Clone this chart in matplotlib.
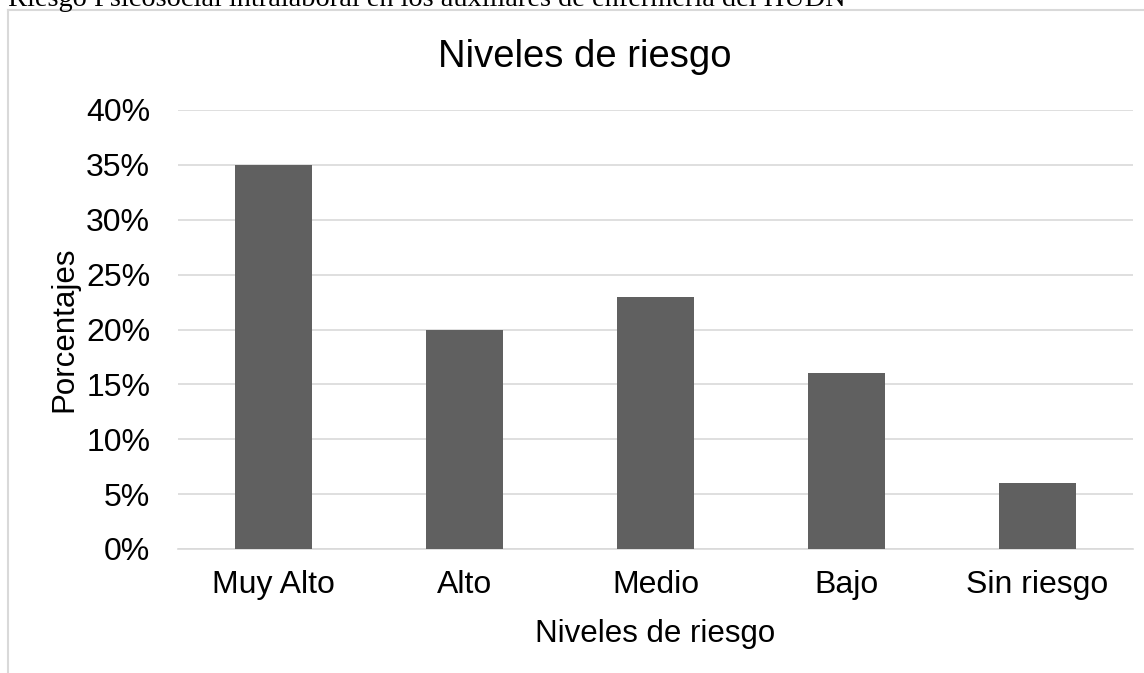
import matplotlib
matplotlib.use("Agg")
import matplotlib.pyplot as plt
from matplotlib.lines import Line2D
from matplotlib.ticker import FuncFormatter

categories = ["Muy Alto", "Alto", "Medio", "Bajo", "Sin riesgo"]
values = [35, 20, 23, 16, 6]
yticks = [0, 5, 10, 15, 20, 25, 30, 35, 40]

W, H = 1144, 673
fig = plt.figure(figsize=(W / 100, H / 100), dpi=100)
plt.rcParams['font.family'] = ['Liberation Sans', 'DejaVu Sans']

# plot area in pixel coords
left, right, top, bottom = 178, 1133, 110, 549
ax = fig.add_axes([left / W, 1 - bottom / H, (right - left) / W, (bottom - top) / H])

x = list(range(len(categories)))
ax.bar(x, values, width=0.4, color="#606060", zorder=3)
ax.set_xlim(-0.5, len(categories) - 0.5)
ax.set_ylim(0, 40)
ax.set_yticks(yticks)
ax.yaxis.set_major_formatter(FuncFormatter(lambda v, p: f"{int(v)}%"))
ax.set_xticks(x)
ax.set_xticklabels(categories)
ax.grid(axis="y", color="#D9D9D9", linewidth=1.2, zorder=0)
for s in ["top", "right", "left"]:
    ax.spines[s].set_visible(False)
ax.spines["bottom"].set_color("#D9D9D9")
ax.spines["bottom"].set_linewidth(1.2)
ax.tick_params(axis="both", length=0, labelsize=23, colors="black")
ax.tick_params(axis="y", pad=20)
ax.tick_params(axis="x", pad=15)

ax.set_xlabel("Niveles de riesgo", fontsize=22.5, va="baseline", ha="center")
ax.xaxis.set_label_coords(0.5, (bottom - 642) / (bottom - top))
ax.set_ylabel("Porcentajes", fontsize=22.5, va="baseline", ha="center")
ax.yaxis.label.set_rotation_mode("anchor")
ax.yaxis.set_label_coords((72 - left) / (right - left), 0.5)

fig.text(585 / W, 1 - 67 / H, "Niveles de riesgo", fontsize=27.5, ha="center", va="baseline")

# chart frame (left and top edges visible)
fig.add_artist(Line2D([8 / W, 8 / W], [0, 1 - 10 / H], color="#D9D9D9", linewidth=1.5,
                      transform=fig.transFigure))
fig.add_artist(Line2D([8 / W, 1], [1 - 10 / H, 1 - 10 / H], color="#D9D9D9", linewidth=1.5,
                      transform=fig.transFigure))

# clipped caption at the very top
fig.text(8 / W, 1 - 6.5 / H, "Riesgo Psicosocial intralaboral en los auxiliares de enfermería del HUDN",
         fontsize=20.4, family="Liberation Serif", ha="left", va="baseline")

fig.savefig("out.png", dpi=100)
